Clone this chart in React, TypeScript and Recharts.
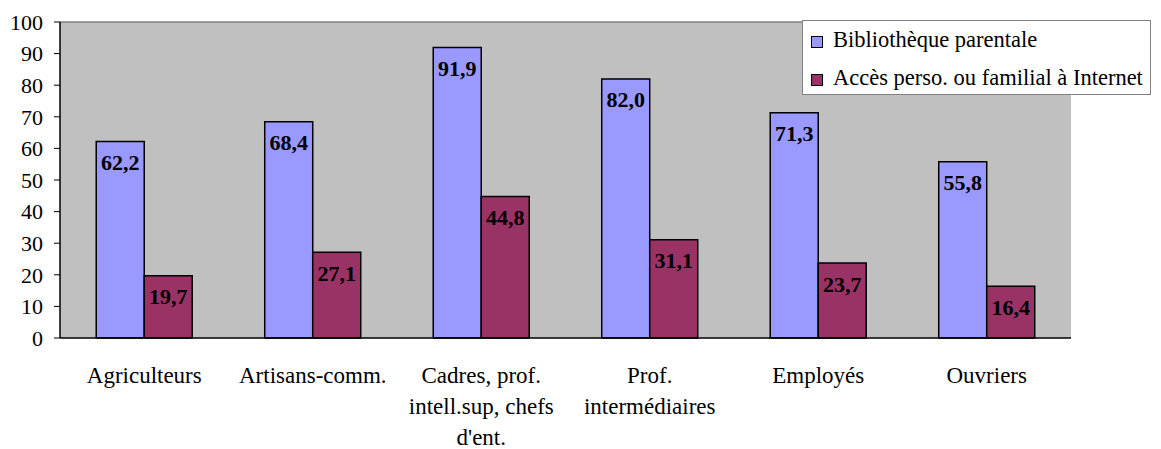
import React from 'react';
import { BarChart, Bar, XAxis, YAxis, CartesianGrid, ReferenceLine, Legend, LabelList } from 'recharts';

const categories = [
  'Agriculteurs',
  'Artisans-comm.',
  "Cadres, prof. intell.sup, chefs d'ent.",
  'Prof. intermédiaires',
  'Employés',
  'Ouvriers',
];
const tickLabelLines = [
  ['Agriculteurs'],
  ['Artisans-comm.'],
  ['Cadres, prof.', 'intell.sup, chefs', "d'ent."],
  ['Prof.', 'intermédiaires'],
  ['Employés'],
  ['Ouvriers'],
];
const bibliotheque = [62.2, 68.4, 91.9, 82.0, 71.3, 55.8];
const internet = [19.7, 27.1, 44.8, 31.1, 23.7, 16.4];
const seriesNames = ['Bibliothèque parentale', 'Accès perso. ou familial à Internet'];
const seriesColors = ['#9999FF', '#993366'];
const yTicks = [0, 10, 20, 30, 40, 50, 60, 70, 80, 90, 100];
const boundaryTicks = [0, 1, 2, 3, 4, 5, 6];

const data = categories.map((c, i) => ({ cat: c, biblio: bibliotheque[i], internet: internet[i] }));

const FONT = '"Liberation Serif", "Times New Roman", serif';

const fmt = (v: number) => v.toFixed(1).replace('.', ',');

const BarLabel = (props: any) => {
  const { x, y, width, value } = props;
  return (
    <text
      x={Number(x) + Number(width) / 2}
      y={Number(y) + 21}
      textAnchor="middle"
      dominantBaseline="central"
      fontFamily={FONT}
      fontWeight="bold"
      fontSize={22}
      fill="#000"
    >
      {fmt(Number(value))}
    </text>
  );
};

const CatTick = (props: any) => {
  const { x, y, payload } = props;
  const idx = categories.indexOf(payload.value);
  const lines = idx >= 0 ? tickLabelLines[idx] : [String(payload.value)];
  return (
    <text x={x} y={y} textAnchor="middle" fontFamily={FONT} fontSize={23} fill="#000">
      {lines.map((l, i) => (
        <tspan key={i} x={x} y={Number(y) + 37 + i * 31} dominantBaseline="central">
          {l}
        </tspan>
      ))}
    </text>
  );
};

const LegendContent = () => (
  <div
    style={{
      width: '100%',
      height: '100%',
      boxSizing: 'border-box',
      border: '1px solid #808080',
      background: '#fff',
      position: 'relative',
      fontFamily: FONT,
      fontSize: 22.5,
      color: '#000',
    }}
  >
    {seriesNames.map((n, i) => (
      <div
        key={n}
        style={{
          position: 'absolute',
          left: 8,
          top: i === 0 ? 19 : 57,
          transform: 'translateY(-50%)',
          display: 'flex',
          alignItems: 'center',
          whiteSpace: 'nowrap',
        }}
      >
        <span
          style={{
            display: 'inline-block',
            width: 12,
            height: 12,
            boxSizing: 'border-box',
            border: '1.5px solid #000',
            background: seriesColors[i],
            marginRight: 10,
            marginTop: 4,
          }}
        />
        <span>{n}</span>
      </div>
    ))}
  </div>
);

export default function App() {
  return (
    <div style={{ position: 'absolute', left: 0, top: 0, width: 1161, height: 449, background: '#fff' }}>
      <BarChart
        width={1161}
        height={449}
        data={data}
        margin={{ top: 22, right: 90, bottom: 0, left: 0 }}
        barCategoryGap="21.5%"
        barGap={0}
      >
        <CartesianGrid xAxisId="cat" yAxisId="left" fill="#C0C0C0" horizontal={false} vertical={false} stroke="none" />
        <XAxis
          xAxisId="grid"
          type="number"
          domain={[0, 6]}
          ticks={boundaryTicks}
          allowDataOverflow
          height={0}
          axisLine={false}
          tick={false}
          tickLine={{ stroke: '#000', strokeWidth: 1 }}
          tickSize={6}
        />
        <XAxis
          xAxisId="cat"
          dataKey="cat"
          height={111}
          interval={0}
          axisLine={{ stroke: '#000', strokeWidth: 1.5 }}
          tickLine={false}
          tickSize={0}
          tickMargin={0}
          tick={<CatTick />}
        />
        <YAxis
          yAxisId="left"
          width={60}
          domain={[0, 100]}
          ticks={yTicks}
          interval={0}
          axisLine={{ stroke: '#000', strokeWidth: 1.5 }}
          tickLine={{ stroke: '#000' }}
          tickSize={6}
          tickMargin={11}
          tick={{ fontFamily: FONT, fontSize: 22, fill: '#000' }}
        />
        <YAxis
          yAxisId="right"
          orientation="right"
          width={0}
          domain={[0, 100]}
          tick={false}
          tickLine={false}
          axisLine={{ stroke: '#808080', strokeWidth: 1.5 }}
        />
        <ReferenceLine xAxisId="cat" yAxisId="left" y={100} stroke="#808080" strokeWidth={1.5} />
        <Legend
          layout="vertical"
          align="center"
          verticalAlign="middle"
          content={<LegendContent />}
          wrapperStyle={{ position: 'absolute', left: 802, top: 20, width: 349, height: 75 }}
        />
        <Bar
          xAxisId="cat"
          yAxisId="left"
          dataKey="biblio"
          name={seriesNames[0]}
          fill={seriesColors[0]}
          stroke="#000"
          strokeWidth={1.5}
          isAnimationActive={false}
        >
          <LabelList dataKey="biblio" content={<BarLabel />} />
        </Bar>
        <Bar
          xAxisId="cat"
          yAxisId="left"
          dataKey="internet"
          name={seriesNames[1]}
          fill={seriesColors[1]}
          stroke="#000"
          strokeWidth={1.5}
          isAnimationActive={false}
        >
          <LabelList dataKey="internet" content={<BarLabel />} />
        </Bar>
      </BarChart>
    </div>
  );
}
